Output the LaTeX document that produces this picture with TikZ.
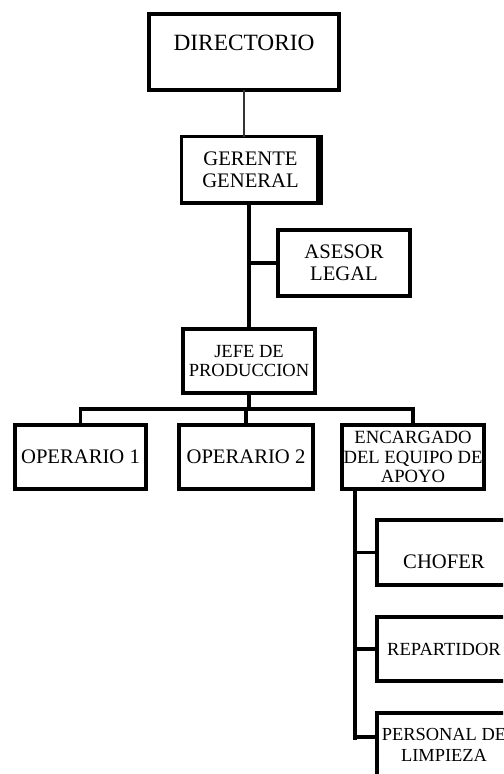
\documentclass[tikz,border=0pt]{standalone}
\usepackage{fontspec}
\setmainfont{Liberation Serif}
\begin{document}
\begin{tikzpicture}[x=0.75pt,y=-0.75pt,
  box/.style={draw, line width=2.9pt, inner sep=0pt, outer sep=0pt, align=center},
  conn/.style={line width=2.3pt},
  thin/.style={line width=1.1pt, draw=black!80},
  fA/.style={font=\fontsize{15.5pt}{16.5pt}\selectfont},
  fB/.style={font=\fontsize{13.9pt}{14.4pt}\selectfont}]
\useasboundingbox (0,0) rectangle (503,774);
\fill[white] (0,0) rectangle (503,774);
\clip (0,0) rectangle (503,774);
% boxes
\node[box, line width=3.2pt, minimum width=142.5pt, minimum height=57pt] (dir) at (244,52) {};
\node[font=\fontsize{17.5pt}{20pt}\selectfont] (dirlbl) at (244,43) {DIRECTORIO};
\node[box, line width=2.4pt, fA, minimum width=103.5pt, minimum height=49.5pt] (ger) at (250.5,169.5) {GERENTE\\GENERAL};
\fill (316,135) rectangle (323,205);
\fill (180,201) rectangle (323,205);
\node[box, fA, minimum width=99.4pt, minimum height=49.9pt] (ase) at (344,263) {ASESOR\\LEGAL};
\node[box, fB, minimum width=99.4pt, minimum height=48.4pt] (jefe) at (249,361) {JEFE DE\\PRODUCCION};
\node[box, fA, minimum width=98.6pt, minimum height=48.4pt] (op1) at (80.5,457) {OPERARIO 1};
\node[box, fA, minimum width=100.9pt, minimum height=48.4pt] (op2) at (246,457) {OPERARIO 2};
\node[box, font=\fontsize{14pt}{14.4pt}\selectfont, minimum width=106.9pt, minimum height=48.4pt] (enc) at (413,457) {ENCARGADO\\DEL EQUIPO DE\\APOYO};
\node[box, minimum width=100.9pt, minimum height=49.1pt] (cho) at (444,552.5) {};
\node[fA] (cholbl) at (444,562) {CHOFER};
\node[box, fB, minimum width=100.9pt, minimum height=48.4pt] (rep) at (444,649) {REPARTIDOR};
\node[box, font=\fontsize{13.8pt}{15.4pt}\selectfont, minimum width=100.9pt, minimum height=48.4pt] (per) at (444,745) {PERSONAL DE\\LIMPIEZA};
% connectors
\draw[thin] (dir.south) -- (dir.south |- ger.north);
\draw[conn] (jefe.north |- ger.south) -- (jefe.north);
\draw[conn] (ase.west -| jefe.north) -- (ase.west);
\coordinate (bar) at (249,409);
\draw[conn] (jefe.south) -- (bar);
\draw[conn] (op1.north) |- (enc.north |- bar) -- (enc.north);
\draw[conn] (op2.north) -- (op2.north |- bar);
\coordinate (s0) at (355,491);
\coordinate (s1) at (355,740);
\coordinate (pb) at (355,737);
\draw[conn] (s0) -- (s1);
\draw[conn] (cho.west -| s0) -- (cho.west);
\draw[conn] (rep.west -| s0) -- (rep.west);
\draw[conn] (pb) -- (pb -| per.west);
\end{tikzpicture}
\end{document}
